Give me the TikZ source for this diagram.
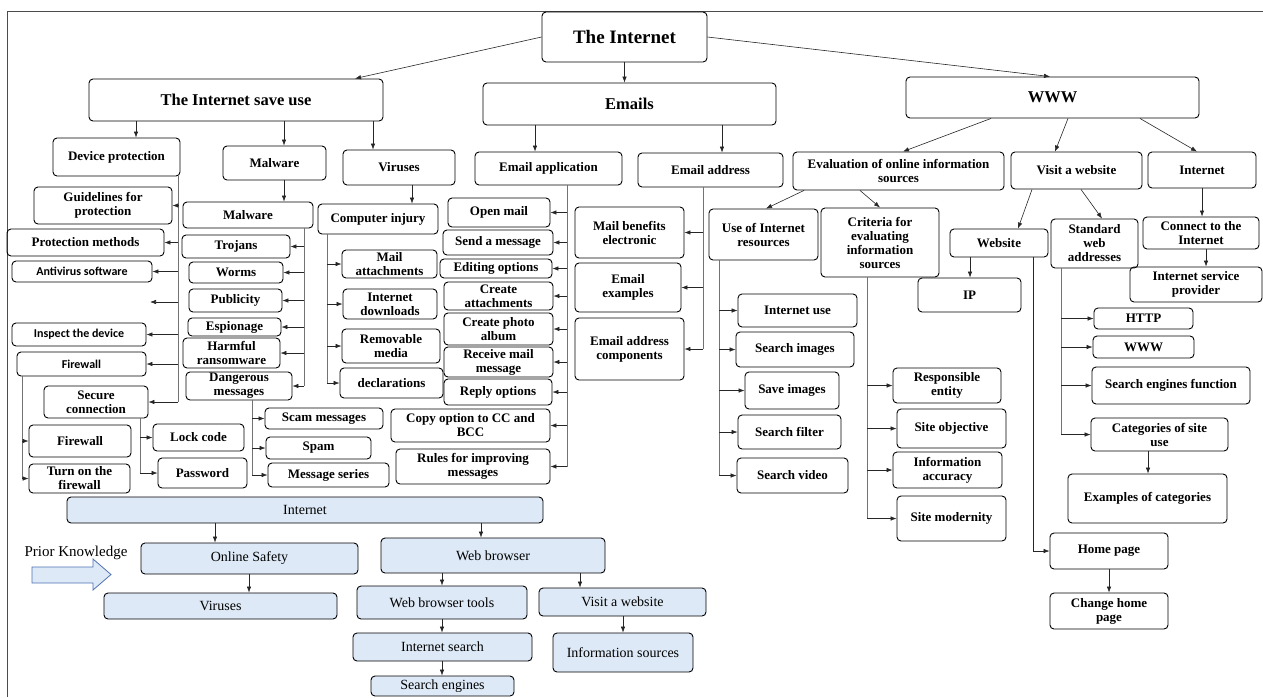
\documentclass[tikz,border=0pt]{standalone}
\usepackage{fontspec}
\setmainfont{Liberation Serif}
\newfontfamily\calibrifont{Carlito}
\usepackage{xcolor}
\usepackage{tikz}
\usetikzlibrary{fit}
\usetikzlibrary{arrows.meta}
\definecolor{boxblue}{RGB}{221,233,246}
\definecolor{arrowblue}{RGB}{79,114,180}
\tikzset{>={Latex[length=6pt,width=4.5pt]}}

\begin{document}
\begin{tikzpicture}[x=1pt, y=-1pt]
\tikzset{box/.style={draw, rounded corners=4pt, line width=0.9pt, inner sep=0pt}}
\tikzset{bluebox/.style={box, fill=boxblue}}
\tikzset{txt/.style={label={[align=center, font=\bfseries\fontsize{13}{14}\selectfont]center:#1}}}
\tikzset{headtxt/.style={label={[align=center, font=\bfseries\fontsize{16.5}{18}\selectfont]center:#1}}}
\tikzset{sanstxt/.style={label={[align=center, font=\calibrifont\bfseries\fontsize{12}{13}\selectfont]center:#1}}}
\tikzset{bluetxt/.style={label={[align=center, font=\fontsize{14}{15}\selectfont]center:#1}}}
\tikzset{trunk/.style={draw=black!55, line width=0.6pt}}
\tikzset{link/.style={->, draw=black!85, line width=0.6pt}}
    \useasboundingbox (0,0) rectangle (1263,697);
    \draw[black!70, line width=0.8pt] (7,697) -- (7,11) -- (1263,11);

    \node[box, fit={(542,12) (707,62)}, label={[font=\bfseries\fontsize{19}{21}\selectfont]center:The Internet}] (net) {};
    \node[box, fit={(89,79) (383,121)}, headtxt={The Internet save use}] (saveuse) {};
    \node[box, fit={(483,83) (776,125)}, headtxt={Emails}] (emails) {};
    \node[box, fit={(906,77) (1199,118)}, headtxt={WWW}] (www) {};

    \draw[link] (net.west) -- (saveuse.north -| 355,0);
    \draw[link] (net.south) -- (net.south |- emails.north);
    \draw[link] (net.east) -- (www.north -| 1050,0);
% % % % % % % % % % % % % % % % % % %
    \node[box, fit={(53,138) (180,176)}, txt={Device protection}] (devprot) {};
    \node[box, fit={(223,146) (326,180)}, txt={Malware}] (malw) {};
    \node[box, fit={(343,150) (455,185)}, txt={Viruses}] (viruses) {};

    \draw[link] (saveuse.south -| 136,0) -- (devprot.north -| 136,0);
    \draw[link] (saveuse.south -| 284,0) -- (malw.north -| 284,0);
    \draw[link] (saveuse.south -| 373,0) -- (viruses.north -| 373,0);

    \node[box, fit={(34,187) (172,224)}, txt={Guidelines for\\protection}] (guide) {};
    \node[box, fit={(7,229) (164,256)}, txt={Protection methods}] (protmeth) {};
    \node[box, fit={(12,261) (152,282)}, sanstxt={Antivirus software}] (antivir) {};
    \coordinate (blank) at (150,302);
    \node[box, fit={(12,323) (146,346)}, sanstxt={Inspect the device}] (inspect) {};
    \node[box, fit={(17,352) (146,376)}, sanstxt={Firewall}] (fireone) {};
    \node[box, fit={(44,386) (148,418)}, txt={Secure\\connection}] (secure) {};

    \draw[trunk] (devprot.south -| 178,0) -- (secure.east -| 178,0);
    \draw[link] (guide.east -| 178,0) -- (guide.east);
    \draw[link] (protmeth.east -| 178,0) -- (protmeth.east);
    \draw[link] (antivir.east -| 178,0) -- (antivir.east);
    \draw[link] (blank -| 178,0) -- (blank);
    \draw[link] (inspect.east -| 178,0) -- (inspect.east);
    \draw[link] (fireone.east -| 178,0) -- (fireone.east);
    \draw[link] (secure.east -| 178,0) -- (secure.east);

    \node[box, fit={(29,425) (131,457)}, txt={Firewall}] (firetwo) {};
    \node[box, fit={(29,464) (130,493)}, txt={Turn on the\\firewall}] (turnon) {};
    \draw[trunk] (fireone.south -| 22,0) -- (turnon.west -| 22,0);
    \draw[link] (firetwo.west -| 22,0) -- (firetwo.west);
    \draw[link] (turnon.west -| 22,0) -- (turnon.west);

    \node[box, fit={(153,424) (244,451)}, txt={Lock code}] (lockcode) {};
    \node[box, fit={(158,458) (247,488)}, txt={Password}] (password) {};
    \draw[trunk] (secure.south -| 140,0) -- (password.west -| 140,0);
    \draw[link] (lockcode.west -| 140,0) -- (lockcode.west);
    \draw[link] (password.west -| 140,0) -- (password.west);
% % % % % % % % % % % % % % % % % % %
    \node[box, fit={(183,202) (313,228)}, txt={Malware}] (malwtwo) {};
    \draw[link] (malw.south -| 284,0) -- (malwtwo.north -| 284,0);

    \node[box, fit={(182,235) (290,258)}, txt={Trojans}] (trojans) {};
    \node[box, fit={(189,262) (283,283)}, txt={Worms}] (worms) {};
    \node[box, fit={(189,289) (282,312)}, txt={Publicity}] (publicity) {};
    \node[box, fit={(188,318) (281,336)}, txt={Espionage}] (espionage) {};
    \node[box, fit={(183,338) (280,368)}, txt={Harmful\\ransomware}] (harmful) {};
    \node[box, fit={(186,372) (292,400)}, txt={Dangerous\\messages}] (danger) {};

    \draw[trunk] (malwtwo.south -| 304,0) -- (danger.east -| 304,0);
    \draw[link] (trojans.east -| 304,0) -- (trojans.east);
    \draw[link] (worms.east -| 304,0) -- (worms.east);
    \draw[link] (publicity.east -| 304,0) -- (publicity.east);
    \draw[link] (espionage.east -| 304,0) -- (espionage.east);
    \draw[link] (harmful.east -| 304,0) -- (harmful.east);
    \draw[link] (danger.east -| 304,0) -- (danger.east);

    \node[box, fit={(265,408) (383,429)}, txt={Scam messages}] (scam) {};
    \node[box, fit={(266,437) (371,459)}, txt={Spam}] (spam) {};
    \node[box, fit={(268,463) (389,487)}, txt={Message series}] (mseries) {};
    \draw[trunk] (danger.south -| 252,0) -- (mseries.west -| 252,0);
    \draw[link] (scam.west -| 252,0) -- (scam.west);
    \draw[link] (spam.west -| 252,0) -- (spam.west);
    \draw[link] (mseries.west -| 252,0) -- (mseries.west);
% % % % % % % % % % % % % % % % % % %
    \node[box, fit={(318,204) (438,234)}, txt={Computer injury}] (compinj) {};
    \draw[link] (viruses.south -| 412,0) -- (compinj.north -| 412,0);

    \node[box, fit={(342,250) (437,278)}, txt={Mail\\attachments}] (mailatt) {};
    \node[box, fit={(343,289) (437,319)}, txt={Internet\\downloads}] (idown) {};
    \node[box, fit={(342,329) (440,363)}, txt={Removable\\media}] (removable) {};
    \node[box, fit={(340,368) (443,398)}, txt={declarations}] (declar) {};

    \draw[trunk] (compinj.south -| 327,0) -- (declar.west -| 327,0);
    \draw[link] (mailatt.west -| 327,0) -- (mailatt.west);
    \draw[link] (idown.west -| 327,0) -- (idown.west);
    \draw[link] (removable.west -| 327,0) -- (removable.west);
    \draw[link] (declar.west -| 327,0) -- (declar.west);
% % % % % % % % % % % % % % % % % % %
    \node[box, fit={(475,152) (622,185)}, txt={Email application}] (emailapp) {};
    \node[box, fit={(638,153) (783,187)}, txt={Email address}] (emailaddr) {};
    \draw[link] (emails.south -| 535,0) -- (emailapp.north -| 535,0);
    \draw[link] (emails.south -| 722,0) -- (emailaddr.north -| 722,0);

    \node[box, fit={(448,198) (550,227)}, txt={Open mail}] (openmail) {};
    \node[box, fit={(443,230) (553,255)}, txt={Send a message}] (sendmsg) {};
    \node[box, fit={(440,259) (552,278)}, txt={Editing options}] (editopt) {};
    \node[box, fit={(444,282) (553,310)}, txt={Create\\attachments}] (createatt) {};
    \node[box, fit={(444,313) (553,345)}, txt={Create photo\\album}] (photo) {};
    \node[box, fit={(444,347) (553,377)}, txt={Receive mail\\message}] (receive) {};
    \node[box, fit={(444,379) (552,405)}, txt={Reply options}] (reply) {};
    \node[box, fit={(391,409) (550,442)}, txt={Copy option to CC and\\BCC}] (copycc) {};
    \node[box, fit={(396,449) (550,484)}, txt={Rules for improving\\messages}] (rules) {};

    \draw[trunk] (emailapp.south -| 567,0) -- (rules.east -| 567,0);
    \draw[link] (openmail.east -| 567,0) -- (openmail.east);
    \draw[link] (sendmsg.east -| 567,0) -- (sendmsg.east);
    \draw[link] (editopt.east -| 567,0) -- (editopt.east);
    \draw[link] (createatt.east -| 567,0) -- (createatt.east);
    \draw[link] (photo.east -| 567,0) -- (photo.east);
    \draw[link] (receive.east -| 567,0) -- (receive.east);
    \draw[link] (reply.east -| 567,0) -- (reply.east);
    \draw[link] (copycc.east -| 567,0) -- (copycc.east);
    \draw[link] (rules.east -| 567,0) -- (rules.east);

    \node[box, fit={(575,207) (684,258)}, txt={Mail benefits\\electronic}] (benefits) {};
    \node[box, fit={(575,263) (681,312)}, txt={Email\\examples}] (emex) {};
    \node[box, fit={(575,318) (684,380)}, txt={Email address\\components}] (components) {};

    \draw[trunk] (emailaddr.south -| 703,0) -- (components.east -| 703,0);
    \draw[link] (benefits.east -| 703,0) -- (benefits.east);
    \draw[link] (emex.east -| 703,0) -- (emex.east);
    \draw[link] (components.east -| 703,0) -- (components.east);
% % % % % % % % % % % % % % % % % % %
    \node[box, fit={(793,152) (1004,190)}, txt={Evaluation of online information\\sources}] (evaluation) {};
    \node[box, fit={(1011,152) (1142,189)}, txt={Visit a website}] (visit) {};
    \node[box, fit={(1148,152) (1256,188)}, txt={Internet}] (inet) {};

    \draw[link] (www.south -| 991,0) -- (evaluation.north -| 903,0);
    \draw[link] (www.south -| 1068,0) -- (visit.north -| 1055,0);
    \draw[link] (www.south -| 1140,0) -- (inet.north -| 1197,0);

    \node[box, fit={(709,209) (818,260)}, txt={Use of Internet\\resources}] (useres) {};
    \node[box, fit={(821,208) (939,277)}, txt={Criteria for\\evaluating\\information\\sources}] (criteria) {};
    \draw[link] (evaluation.south -| 804,0) -- (useres.north -| 766,0);
    \draw[link] (evaluation.south -| 860,0) -- (criteria.north -| 880,0);

    \node[box, fit={(738,294) (857,327)}, txt={Internet use}] (iuse) {};
    \node[box, fit={(736,332) (854,367)}, txt={Search images}] (simages) {};
    \node[box, fit={(745,372) (839,409)}, txt={Save images}] (saveimg) {};
    \node[box, fit={(738,415) (841,449)}, txt={Search filter}] (sfilter) {};
    \node[box, fit={(737,458) (848,493)}, txt={Search video}] (svideo) {};

    \draw[trunk] (useres.south -| 719,0) -- (svideo.west -| 719,0);
    \draw[link] (iuse.west -| 719,0) -- (iuse.west);
    \draw[link] (simages.west -| 719,0) -- (simages.west);
    \draw[link] (saveimg.west -| 719,0) -- (saveimg.west);
    \draw[link] (sfilter.west -| 719,0) -- (sfilter.west);
    \draw[link] (svideo.west -| 719,0) -- (svideo.west);

    \node[box, fit={(893,368) (1001,403)}, txt={Responsible\\entity}] (respons) {};
    \node[box, fit={(897,409) (1006,448)}, txt={Site objective}] (siteobj) {};
    \node[box, fit={(893,452) (1002,488)}, txt={Information\\accuracy}] (accuracy) {};
    \node[box, fit={(897,496) (1006,541)}, txt={Site modernity}] (modern) {};

    \draw[trunk] (criteria.south -| 867,0) -- (modern.west -| 867,0);
    \draw[link] (respons.west -| 867,0) -- (respons.west);
    \draw[link] (siteobj.west -| 867,0) -- (siteobj.west);
    \draw[link] (accuracy.west -| 867,0) -- (accuracy.west);
    \draw[link] (modern.west -| 867,0) -- (modern.west);
% % % % % % % % % % % % % % % % % % %
    \node[box, fit={(950,229) (1048,257)}, txt={Website}] (website) {};
    \node[box, fit={(1051,219) (1138,268)}, txt={Standard\\web\\addresses}] (stdweb) {};
    \draw[link] (visit.south -| 1032,0) -- (website.north -| 1018,0);
    \draw[link] (visit.south -| 1081,0) -- (stdweb.north -| 1102,0);

    \node[box, fit={(918,278) (1021,312)}, txt={IP}] (ip) {};
    \draw[link] (website.south -| 970,0) -- (ip.north -| 970,0);

    \node[box, fit={(1050,533) (1168,569)}, txt={Home page}] (homepage) {};
    \node[box, fit={(1050,593) (1168,629)}, txt={Change home\\page}] (chome) {};
    \draw[link] (website.south -| 1033,0) |- (homepage.west);
    \draw[link] (homepage.south) -- (chome.north);

    \node[box, fit={(1094,308) (1193,329)}, txt={HTTP}] (http) {};
    \node[box, fit={(1093,336) (1194,358)}, txt={WWW}] (wwwsmall) {};
    \node[box, fit={(1092,367) (1250,404)}, txt={Search engines function}] (sengfn) {};
    \node[box, fit={(1091,418) (1228,451)}, txt={Categories of site\\use}] (categ) {};
    \node[box, fit={(1068,474) (1227,523)}, txt={Examples of categories}] (catex) {};

    \draw[trunk] (stdweb.south -| 1061,0) -- (categ.west -| 1061,0);
    \draw[link] (http.west -| 1061,0) -- (http.west);
    \draw[link] (wwwsmall.west -| 1061,0) -- (wwwsmall.west);
    \draw[link] (sengfn.west -| 1061,0) -- (sengfn.west);
    \draw[link] (categ.west -| 1061,0) -- (categ.west);
    \draw[link] (categ.south -| 1148,0) -- (catex.north -| 1148,0);

    \node[box, fit={(1143,217) (1259,249)}, txt={Connect to the\\Internet}] (connect) {};
    \node[box, fit={(1130,267) (1262,302)}, txt={Internet service\\provider}] (isp) {};
    \draw[link] (inet.south) -- (inet.south |- connect.north);
    \draw[link] (connect.south -| 1206,0) -- (isp.north -| 1206,0);
% % % % % % % % % % % % % % % % % % %
    \node[bluebox, fit={(67,497) (543,523)}, bluetxt={Internet}] (binet) {};
    \node[bluebox, fit={(141,543) (358,574)}, bluetxt={Online Safety}] (osafe) {};
    \node[bluebox, fit={(104,593) (337,619)}, bluetxt={Viruses}] (bvir) {};
    \node[bluebox, fit={(381,538) (605,573)}, bluetxt={Web browser}] (wbrow) {};
    \node[bluebox, fit={(357,586) (527,619)}, bluetxt={Web browser tools}] (wtools) {};
    \node[bluebox, fit={(539,588) (706,616)}, bluetxt={Visit a website}] (bvisit) {};
    \node[bluebox, fit={(353,633) (532,661)}, bluetxt={Internet search}] (isearch) {};
    \node[bluebox, fit={(371,676) (514,696)}, bluetxt={Search engines}] (sengine) {};
    \node[bluebox, fit={(553,633) (693,672)}, bluetxt={Information sources}] (infosrc) {};

    \draw[link] (binet.south -| 215,0) -- (osafe.north -| 215,0);
    \draw[link] (binet.south -| 481,0) -- (wbrow.north -| 481,0);
    \draw[link] (osafe.south -| 249,0) -- (bvir.north -| 249,0);
    \draw[link] (wbrow.south -| 442,0) -- (wtools.north -| 442,0);
    \draw[link] (wbrow.south -| 580,0) -- (bvisit.north -| 580,0);
    \draw[link] (wtools.south -| 442,0) -- (isearch.north -| 442,0);
    \draw[link] (isearch.south -| 442,0) -- (sengine.north -| 442,0);
    \draw[link] (bvisit.south -| 623,0) -- (infosrc.north -| 623,0);

    \node[font=\fontsize{15}{17}\selectfont, inner sep=0pt] (prior) at (76,553) {Prior Knowledge};
    \draw[arrowblue, fill=boxblue, line width=0.8pt] (32,567) -- (93,567) -- (93,559) -- (111,574.5) -- (93,590) -- (93,583) -- (32,583) -- cycle;
\end{tikzpicture}
\end{document}
